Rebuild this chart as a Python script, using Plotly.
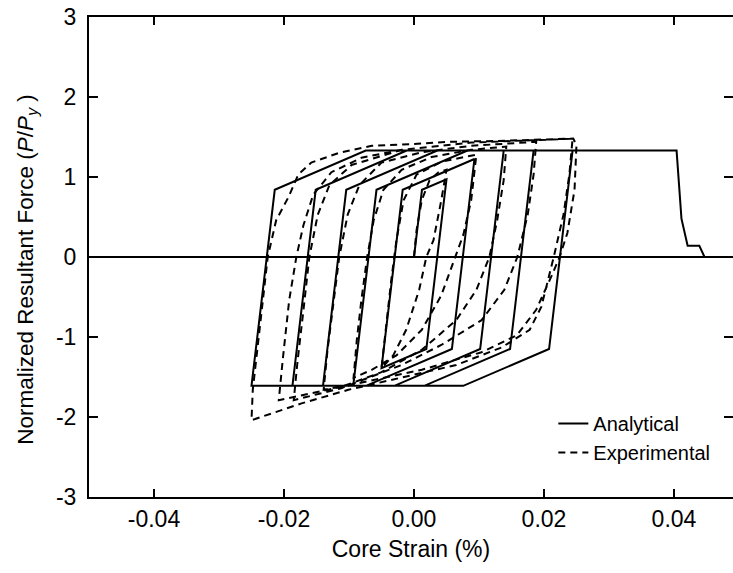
import plotly.graph_objects as go

# ---------------- data ----------------
analytical_strain = [0.0, 0.00123, 0.0050, 0.0019, -0.0050, -0.00174, 0.0093, 0.00583, -0.00737,
                     -0.00935, -0.00577, 0.00823, 0.0138, 0.01018, -0.00302, -0.0140, -0.01042,
                     0.00358, 0.0184, 0.01478, 0.00158, -0.0187, -0.01512, -0.00112, 0.0244,
                     0.02078, 0.00758, -0.0250, -0.02142, -0.00742, 0.0404, 0.04115, 0.0421,
                     0.0439, 0.0447]
analytical_force = [0.0, 0.84, 0.97, -1.15, -1.39, 0.84, 1.225, -1.15, -1.61,
                    -1.61, 0.84, 1.33, 1.33, -1.15, -1.61, -1.61, 0.84,
                    1.33, 1.33, -1.15, -1.61, -1.61, 0.84, 1.33, 1.33,
                    -1.15, -1.61, -1.61, 0.84, 1.33, 1.33, 0.48, 0.14,
                    0.14, 0.0]

experimental_strain = [
    0.0, 0.0004, 0.0012, 0.0024, 0.0038, 0.0050,
    0.0042, 0.0030, 0.0019, 0.0008, -0.0012, -0.0032, -0.0050,
    -0.0042, -0.0035, -0.0027, -0.0016, 0.0004, 0.0042, 0.0096,
    0.0088, 0.0076, 0.0061, 0.0042, 0.0012, -0.0027, -0.0065, -0.0093,
    -0.0088, -0.0081, -0.0072, -0.0062, -0.0047, -0.0019, 0.0027, 0.0088, 0.0142,
    0.0138, 0.0128, 0.0116, 0.0096, 0.0065, 0.0012, -0.0050, -0.0104, -0.0139,
    -0.0133, -0.0124, -0.0115, -0.0102, -0.0084, -0.0050, 0.0012, 0.0088, 0.0188,
    0.0184, 0.0175, 0.0159, 0.0139, 0.0104, 0.0042, -0.0019, -0.0112, -0.0185,
    -0.0179, -0.0170, -0.0161, -0.0148, -0.0130, -0.0096, -0.0019, 0.0088, 0.0244,
    0.0239, 0.0230, 0.0215, 0.0205, 0.0196, 0.0178, 0.0135, 0.0065, -0.0019, -0.0101,
    -0.0173, -0.0242, -0.0250,
    -0.0248, -0.0238, -0.0225, -0.0212, -0.0193, -0.0178, -0.0158, -0.0116, -0.0065,
    -0.0008, 0.0053, 0.0124, 0.0201, 0.0245, 0.0250,
    0.0247, 0.0236, 0.0224, 0.0212, 0.0188, 0.0158, 0.0104, 0.0012, -0.0096, -0.0173, -0.0208,
    -0.0202, -0.0192, -0.0181, -0.0170, -0.0155, -0.0127, -0.0081, -0.0019]
experimental_force = [
    0.0, 0.34, 0.71, 0.96, 1.06, 1.09,
    0.71, 0.21, 0.00, -0.41, -0.91, -1.23, -1.39,
    -0.79, -0.29, 0.21, 0.71, 1.03, 1.19, 1.28,
    0.71, 0.28, -0.06, -0.48, -0.91, -1.23, -1.41, -1.51,
    -1.04, -0.54, 0.00, 0.46, 0.84, 1.09, 1.25, 1.34, 1.38,
    0.96, 0.46, 0.00, -0.41, -0.79, -1.16, -1.44, -1.60, -1.66,
    -1.16, -0.54, 0.00, 0.53, 0.90, 1.18, 1.31, 1.39, 1.44,
    1.03, 0.53, 0.00, -0.41, -0.79, -1.10, -1.35, -1.64, -1.79,
    -1.29, -0.66, 0.00, 0.53, 0.90, 1.15, 1.34, 1.43, 1.48,
    1.03, 0.53, 0.00, -0.33, -0.62, -0.91, -1.13, -1.35, -1.51, -1.66,
    -1.83, -2.01, -2.04,
    -1.66, -0.91, 0.00, 0.46, 0.75, 1.03, 1.18, 1.30, 1.39,
    1.41, 1.44, 1.45, 1.47, 1.48, 1.40,
    0.84, 0.30, 0.00, -0.23, -0.66, -0.98, -1.19, -1.41, -1.60, -1.73, -1.79,
    -1.29, -0.54, 0.00, 0.40, 0.78, 1.06, 1.24, 1.34]

x_tick_vals = [-0.04, -0.02, 0.0, 0.02, 0.04]
x_tick_labels = ["-0.04", "-0.02", "0.00", "0.02", "0.04"]
y_tick_vals = [-3, -2, -1, 0, 1, 2, 3]
y_tick_labels = ["-3", "-2", "-1", "0", "1", "2", "3"]

# ---------------- figure ----------------
FONT = "Liberation Sans, Arial, Helvetica, sans-serif"
x_range = [-0.05, 0.04908]
y_range = [-3, 3]

fig = go.Figure()
fig.add_trace(go.Scatter(x=analytical_strain, y=analytical_force, mode="lines",
                         name="Analytical", line=dict(color="black", width=2)))
fig.add_trace(go.Scatter(x=experimental_strain, y=experimental_force, mode="lines",
                         name="Experimental",
                         line=dict(color="black", width=2, dash="7px,5px")))
# helper trace for mirrored tick axes
fig.add_trace(go.Scatter(x=[None], y=[None], xaxis="x2", yaxis="y2",
                         showlegend=False, hoverinfo="skip"))

fig.update_layout(
    width=733, height=573,
    margin=dict(l=89, r=0, t=17, b=76),
    paper_bgcolor="white", plot_bgcolor="white",
    font=dict(family=FONT, size=23, color="black"),
    showlegend=True,
    legend=dict(x=0.721, y=0.194, xanchor="left", yanchor="top",
                bgcolor="rgba(0,0,0,0)", font=dict(size=20, family=FONT),
                tracegroupgap=0),
    xaxis=dict(range=x_range, tickvals=x_tick_vals, ticktext=x_tick_labels,
               ticks="inside", ticklen=8, tickwidth=2, tickcolor="black",
               showline=True, linecolor="black", linewidth=2, mirror=True,
               showgrid=False, zeroline=False, ticklabelstandoff=0, automargin=False,
               ticklabeloverflow="allow",
               title=dict(text="Core Strain (%)", font=dict(size=23), standoff=10)),
    yaxis=dict(range=y_range, tickvals=y_tick_vals, ticktext=y_tick_labels,
               ticks="inside", ticklen=9, tickwidth=2, tickcolor="black",
               showline=True, linecolor="black", linewidth=2, mirror=False,
               showgrid=False, zeroline=True, zerolinecolor="black", zerolinewidth=2,
               ticklabelstandoff=6, automargin=False, ticklabeloverflow="allow",
               title=dict(text="Normalized Resultant Force (<i>P</i>/<i>P</i><sub><i>y</i></sub> )&nbsp;&nbsp;&nbsp;&nbsp;",
                          font=dict(size=22.5), standoff=16)),
    xaxis2=dict(range=x_range, overlaying="x", side="top", anchor="y",
                tickvals=x_tick_vals, showticklabels=False, automargin=False,
                ticks="inside", ticklen=8, tickwidth=2, tickcolor="black",
                showline=False, showgrid=False, zeroline=False),
    yaxis2=dict(range=y_range, overlaying="y", side="right", anchor="x",
                tickvals=y_tick_vals, showticklabels=False, automargin=False,
                ticks="inside", ticklen=9, tickwidth=2, tickcolor="black",
                showline=False, showgrid=False, zeroline=False),
)

# remove the browser's default 8px page margin so the figure fills the window
fig.write_html("out.html", config={"displayModeBar": False},
               post_script="document.body.style.margin='0';document.body.style.overflow='hidden';")
